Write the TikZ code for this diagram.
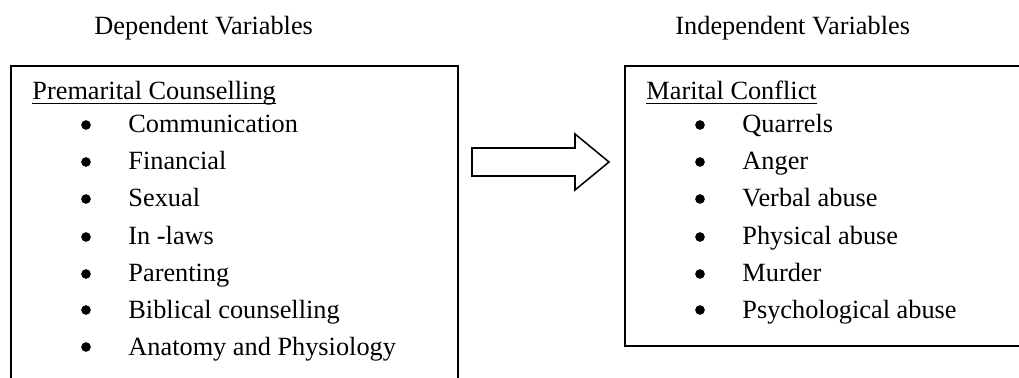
\documentclass[tikz,border=0pt]{standalone}
\usepackage{fontspec}
\setmainfont{Liberation Serif}
\begin{document}
\begin{tikzpicture}[x=0.456pt,y=-0.456pt,
  font=\fontsize{12}{14}\selectfont,
  box/.style={draw=black, line width=0.7pt, anchor=north west, inner sep=0, outer sep=0},
  txt/.style={anchor=base west, inner sep=0},
  bul/.style={circle, fill=black, inner sep=0, minimum size=4.4pt},
  hollow/.style={draw=black, line width=0.7pt, fill=white, line join=miter}]
\useasboundingbox (0,0) rectangle (1019,378);
\node [txt] (dephead) at (94,35) {Dependent Variables};
\node [txt] (indephead) at (675,35) {Independent Variables};
\node [box, minimum width=203.8pt, minimum height=161.4pt] (dep) at (11,66) {};
\node [box, minimum width=189.2pt, minimum height=127.7pt] (indep) at (625,66) {};
\coordinate (tail) at (472,162);
\draw [hollow] (tail) ++(0,-14) -- ++(103,0) -- ++(0,-14) -- ++(34,28) -- ++(-34,28) -- ++(0,-14) -- ++(-103,0) -- cycle;
\node [txt] (deptitle) at (32,100) {\underline{\smash{Premarital Counselling}}};
\node [bul] (b1) at (86,125) {};
\node [txt] (comm) at (128,133) {Communication};
\node [bul] (b2) at (86,162) {};
\node [txt] (fin) at (128,170) {Financial};
\node [bul] (b3) at (86,199) {};
\node [txt] (sex) at (128,207) {Sexual};
\node [bul] (b4) at (86,237) {};
\node [txt] (inlaw) at (128,245) {In -laws};
\node [bul] (b5) at (86,274) {};
\node [txt] (parent) at (128,282) {Parenting};
\node [bul] (b6) at (86,310) {};
\node [txt] (bib) at (128,318) {Biblical counselling};
\node [bul] (b7) at (86,347) {};
\node [txt] (anat) at (128,355) {Anatomy and Physiology};
\node [txt] (indeptitle) at (646,100) {\underline{\smash{Marital Conflict}}};
\node [bul] (c1) at (700,125) {};
\node [txt] (quar) at (742,133) {Quarrels};
\node [bul] (c2) at (700,162) {};
\node [txt] (anger) at (742,170) {Anger};
\node [bul] (c3) at (700,199) {};
\node [txt] (verbal) at (742,207) {Verbal abuse};
\node [bul] (c4) at (700,237) {};
\node [txt] (phys) at (742,245) {Physical abuse};
\node [bul] (c5) at (700,274) {};
\node [txt] (murder) at (742,282) {Murder};
\node [bul] (c6) at (700,310) {};
\node [txt] (psych) at (742,318) {Psychological abuse};
\end{tikzpicture}
\end{document}
